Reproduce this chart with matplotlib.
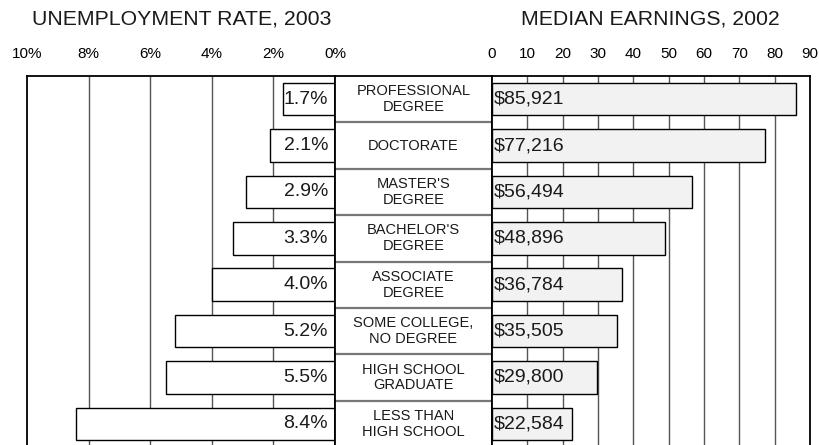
"""Unemployment rate vs. median earnings by education level."""
import matplotlib; matplotlib.use("Agg")
import matplotlib.pyplot as plt

plt.rcParams["font.family"] = ["Liberation Sans", "DejaVu Sans"]

levels = ["PROFESSIONAL\nDEGREE", "DOCTORATE", "MASTER'S\nDEGREE",
          "BACHELOR'S\nDEGREE", "ASSOCIATE\nDEGREE", "SOME COLLEGE,\nNO DEGREE",
          "HIGH SCHOOL\nGRADUATE", "LESS THAN\nHIGH SCHOOL"]
unemployment = [1.7, 2.1, 2.9, 3.3, 4.0, 5.2, 5.5, 8.4]          # %
earnings = [85921, 77216, 56494, 48896, 36784, 35505, 29800, 22584]  # $

left_ticks = [10, 8, 6, 4, 2, 0]
right_ticks = [0, 10, 20, 30, 40, 50, 60, 70, 80, 90]

W, H = 820, 445
fig = plt.figure(figsize=(W / 100, H / 100), dpi=100)

def px_axes(x0, x1, y0=76, y1=447):
    return fig.add_axes([x0 / W, 1 - y1 / H, (x1 - x0) / W, (y1 - y0) / H])

axL = px_axes(27, 335)
axM = px_axes(335, 492)
axR = px_axes(492, 810)

ypos = list(range(len(levels)))
grid_c = "#555555"
bar_h = 0.7
txt_c = "#1a1a1a"

# left: unemployment
axL.set_xlim(10, 0)
axL.set_ylim(7.5, -0.5)
for t in left_ticks[1:-1]:
    axL.axvline(t, color=grid_c, lw=1, zorder=0)
axL.barh(ypos, unemployment, height=bar_h, color="white", edgecolor="black", lw=1, zorder=2)
for y, v in zip(ypos, unemployment):
    axL.annotate(f"{v:.1f}%", (0, y), xytext=(-5, 0), textcoords="offset points",
                 ha="right", va="center", fontsize=14, color=txt_c, zorder=3)
axL.xaxis.tick_top()
axL.set_xticks(left_ticks)
axL.set_xticklabels([f"{t}%" for t in left_ticks], fontsize=11)
axL.tick_params(axis="x", length=0, pad=11)
axL.set_yticks([])

# middle: labels
axM.set_xlim(0, 1)
axM.set_ylim(7.5, -0.5)
for y in ypos[:-1]:
    axM.axhline(y + 0.5, color="#777777", lw=1.6)
for y, lab in zip(ypos, levels):
    axM.text(0.5, y, lab, ha="center", va="center", fontsize=10.5,
             color=txt_c, linespacing=1.15)
axM.set_xticks([]); axM.set_yticks([])

# right: earnings (thousands)
axR.set_xlim(0, 90)
axR.set_ylim(7.5, -0.5)
for t in right_ticks[1:-1]:
    axR.axvline(t, color=grid_c, lw=1, zorder=0)
axR.barh(ypos, [e / 1000 for e in earnings], height=bar_h, color="#f2f2f2",
         edgecolor="black", lw=1, zorder=2)
for y, e in zip(ypos, earnings):
    axR.annotate(f"${e:,}", (0, y), xytext=(1, 0), textcoords="offset points",
                 ha="left", va="center", fontsize=14, color=txt_c, zorder=3)
axR.xaxis.tick_top()
axR.set_xticks(right_ticks)
axR.set_xticklabels([str(t) for t in right_ticks], fontsize=11)
axR.tick_params(axis="x", length=0, pad=11)
axR.set_yticks([])

for ax in (axL, axM, axR):
    for s in ax.spines.values():
        s.set_linewidth(1.3)
        s.set_color("black")

fig.text(182 / W, 1 - 19 / H, "UNEMPLOYMENT RATE, 2003", ha="center", va="center",
         fontsize=15.3, color=txt_c)
fig.text(650 / W, 1 - 19 / H, "MEDIAN EARNINGS, 2002", ha="center", va="center",
         fontsize=15.3, color=txt_c)

fig.savefig("out.png", dpi=100)
